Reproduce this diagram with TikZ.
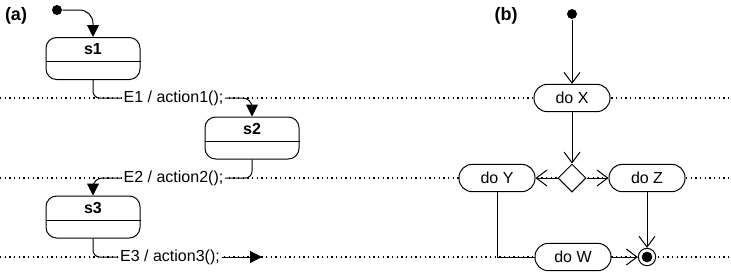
\documentclass[tikz,border=0pt]{standalone}
\usepackage{fontspec}
\setmainfont{Liberation Sans}
\usetikzlibrary{arrows.meta,shapes.geometric}
\begin{document}
\begin{tikzpicture}[x=0.75pt, y=-0.75pt, line width=0.75pt,
    font=\fontsize{12}{14}\selectfont,
    statebox/.style={draw, fill=white, rounded corners=8pt, minimum width=70.5pt, minimum height=31.5pt, inner sep=0pt},
    statename/.style={font=\fontsize{12}{14}\selectfont\bfseries},
    actbox/.style={draw, fill=white, rounded corners=10pt, minimum width=57pt, minimum height=20.5pt, inner sep=0pt},
    trlabel/.style={fill=white, inner sep=1pt},
    swimline/.style={line width=0.9pt, dash pattern=on 1pt off 2.5pt},
    fillarrow/.style={-{Triangle[length=9pt,width=9pt]}},
    openarrow/.style={-{Straight Barb[length=8pt,width=12pt]}},
    startdot/.style={circle, fill, inner sep=0pt, minimum size=7.5pt},
    tag/.style={font=\fontsize{13.5}{16}\selectfont\bfseries}]
    \useasboundingbox (0,0) rectangle (731,273);
    % Swim lines
    \draw[swimline] (0,98) -- (731,98);
    \draw[swimline] (0,178) -- (731,178);
    \draw[swimline] (0,257) -- (731,257);
    % (a) state machine
    \node[tag] (tagA) at (16,16) {(a)};
    \node[startdot] (init1) at (57,10) {};
    \node[statebox] (s1) at (93,58.5) {};
    \node[statename] (s1name) at (93,49) {s1};
    \draw (s1.west |- 0,61) -- (s1.east |- 0,61);
    \node[statebox] (s2) at (252,138) {};
    \node[statename] (s2name) at (252,129) {s2};
    \draw (s2.west |- 0,141) -- (s2.east |- 0,141);
    \node[statebox] (s3) at (93,217) {};
    \node[statename] (s3name) at (93,208) {s3};
    \draw (s3.west |- 0,220) -- (s3.east |- 0,220);
    \draw[fillarrow, rounded corners=10pt] (init1) -| (s1.north);
    % Transitions
    \node[trlabel] (e1) at (173.5,98) {E1 / action1();};
    \node[trlabel] (e2) at (173.5,178) {E2 / action2();};
    \node[trlabel] (e3) at (170,257) {E3 / action3();};
    \coordinate (exit3) at (262,257);
    \draw[rounded corners=5pt] (s1.south) |- (e1.west);
    \draw[fillarrow, rounded corners=7pt] (e1.east) -| (s2.north);
    \draw[rounded corners=5pt] (s2.south) |- (e2.east);
    \draw[fillarrow, rounded corners=7pt] (e2.west) -| (s3.north);
    \draw[rounded corners=5pt] (s3.south) |- (e3.west);
    \draw[fillarrow] (e3.east) -- (exit3);
    % (b) activity
    \node[tag] (tagB) at (506,16) {(b)};
    \node[startdot] (init2) at (572,14) {};
    \node[actbox] (doX) at (572,98) {do X};
    \node[draw, fill=white, diamond, minimum size=21pt, inner sep=0pt] (dec) at (572,178) {};
    \node[actbox] (doY) at (497,178) {do Y};
    \node[actbox] (doZ) at (647,178) {do Z};
    \node[actbox] (doW) at (573,257) {do W};
    \node[draw, circle, fill=white, minimum size=13pt, inner sep=0pt] (fin) at (647,257) {};
    \fill (fin.center) circle (4pt);
    \draw[openarrow] (init2) -- (doX);
    \draw[openarrow] (doX) -- (dec);
    \draw[openarrow] (dec) -- (doY);
    \draw[openarrow] (dec) -- (doZ);
    \draw[openarrow] (doZ) -- (fin);
    \draw[openarrow] (doW) -- (fin);
    \draw (doY.south) |- (doW.west);
\end{tikzpicture}
\end{document}
